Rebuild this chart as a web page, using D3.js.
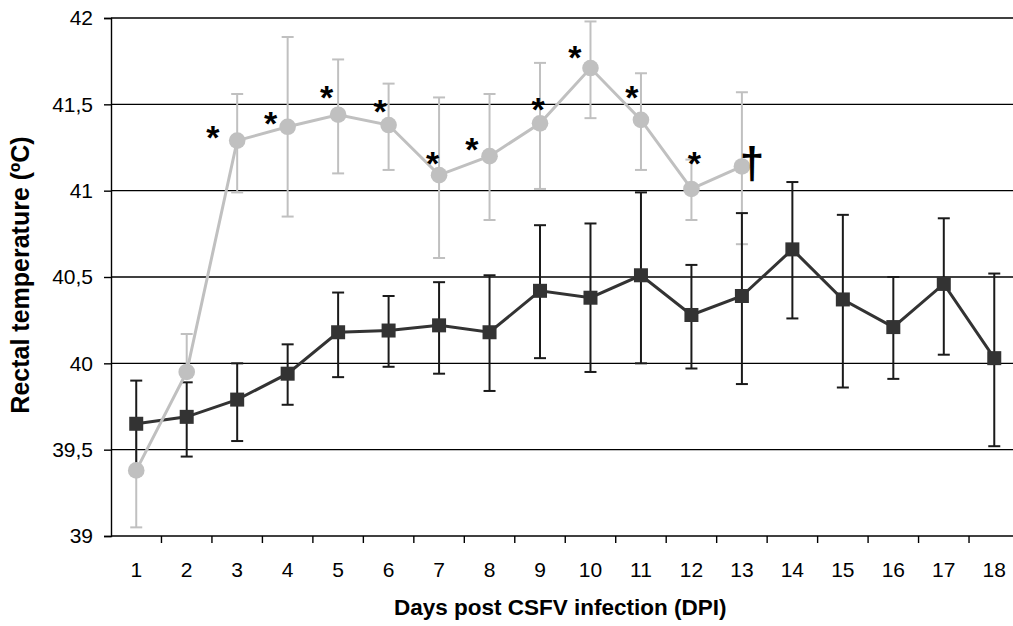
<!DOCTYPE html>
<html>
<head>
<meta charset="utf-8">
<script src="https://cdn.jsdelivr.net/npm/d3@7"></script>
<style>
  body { margin: 0; background: #fff; }
  text { font-family: "Liberation Sans", Arial, sans-serif; }
</style>
</head>
<body>
<div id="chart"></div>
<script>
// Days on the x axis
const days = [1, 2, 3, 4, 5, 6, 7, 8, 9, 10, 11, 12, 13, 14, 15, 16, 17, 18];
const yTicks = [39, 39.5, 40, 40.5, 41, 41.5, 42];

// Infected group (light grey, circles) - days 1 to 13
const infMean  = [39.38, 39.95, 41.29, 41.37, 41.44, 41.38, 41.09, 41.20, 41.39, 41.71, 41.41, 41.01, 41.14];
const infUpper = [39.66, 40.17, 41.56, 41.89, 41.76, 41.62, 41.54, 41.56, 41.74, 41.98, 41.68, 41.18, 41.57];
const infLower = [39.05, 39.92, 40.99, 40.85, 41.10, 41.12, 40.61, 40.83, 41.01, 41.42, 41.12, 40.83, 40.69];

// Second group (dark grey, squares) - days 1 to 18
const ctlMean  = [39.65, 39.69, 39.79, 39.94, 40.18, 40.19, 40.22, 40.18, 40.42, 40.38, 40.51, 40.28, 40.39, 40.66, 40.37, 40.21, 40.46, 40.03];
const ctlUpper = [39.90, 39.89, 40.00, 40.11, 40.41, 40.39, 40.47, 40.51, 40.80, 40.81, 40.99, 40.57, 40.87, 41.05, 40.86, 40.50, 40.84, 40.52];
const ctlLower = [39.40, 39.46, 39.55, 39.76, 39.92, 39.98, 39.94, 39.84, 40.03, 39.95, 40.00, 39.97, 39.88, 40.26, 39.86, 39.91, 40.05, 39.52];

// Significance marks (position in day / temperature units)
const starDay  = [2.52, 3.66, 4.77, 5.83, 6.87, 7.65, 8.96, 9.69, 10.82, 12.06];
const starTemp = [41.36, 41.44, 41.59, 41.51, 41.21, 41.29, 41.52, 41.82, 41.59, 41.21];
const daggerDay = 13.2, daggerTemp = 41.15;

const W = 1013, H = 626;
const margin = {left: 111, top: 18};
const plotW = 908.5, plotH = 518;

const svg = d3.select("#chart").append("svg")
    .attr("width", W).attr("height", H);

const g = svg.append("g")
    .attr("transform", `translate(${margin.left},${margin.top})`);

const x = d3.scaleBand().domain(days).range([0, plotW]).padding(0);
const xLin = d3.scaleLinear().domain([0.5, 18.5]).range([0, plotW]);
const y = d3.scaleLinear().domain([39, 42]).range([plotH, 0]);
const cx = d => x(d) + x.bandwidth() / 2;

// Horizontal gridlines
g.selectAll(".grid")
    .data(yTicks.slice(1))
    .enter().append("line")
    .attr("x1", 0).attr("x2", plotW)
    .attr("y1", d => y(d)).attr("y2", d => y(d))
    .attr("stroke", "#000").attr("stroke-width", 1.4);

// Y axis
const yAxis = g.append("g")
    .call(d3.axisLeft(y).tickValues(yTicks).tickSize(7).tickPadding(11)
        .tickFormat(d => String(d).replace(".", ",")));
yAxis.select(".domain").attr("stroke-width", 1.4);
yAxis.selectAll(".tick line").attr("stroke-width", 1.4);
yAxis.selectAll("text").attr("font-size", 21).attr("fill", "#000")
    .style("font-family", "Liberation Sans, Arial, sans-serif");

// X axis (ticks sit between categories)
const xAxis = g.append("g").attr("transform", `translate(0,${plotH})`);
xAxis.append("line")
    .attr("x1", 0).attr("x2", plotW)
    .attr("stroke", "#000").attr("stroke-width", 1.4);
xAxis.selectAll(".xt")
    .data(days)
    .enter().append("line")
    .attr("x1", d => x(d) + x.bandwidth()).attr("x2", d => x(d) + x.bandwidth())
    .attr("y1", 0).attr("y2", 7)
    .attr("stroke", "#000").attr("stroke-width", 1.4);
xAxis.selectAll(".xl")
    .data(days)
    .enter().append("text")
    .attr("x", d => cx(d)).attr("y", 41)
    .attr("text-anchor", "middle")
    .attr("font-size", 21)
    .text(d => d);

// Axis titles
svg.append("text")
    .attr("x", margin.left + xLin(9.4)).attr("y", 615)
    .attr("text-anchor", "middle")
    .attr("font-size", 22.5).attr("font-weight", "bold")
    .text("Days post CSFV infection (DPI)");

svg.append("text")
    .attr("transform", `translate(29,${margin.top + 257}) rotate(-90)`)
    .attr("text-anchor", "middle")
    .attr("font-size", 25).attr("font-weight", "bold")
    .text("Rectal temperature (ºC)");

// Error bars helper
function errorBars(mean, upper, lower, color) {
    const data = mean.map((m, i) => ({day: days[i], hi: upper[i], lo: lower[i]}));
    const eb = g.append("g");
    eb.selectAll(".v").data(data).enter().append("line")
        .attr("x1", d => cx(d.day)).attr("x2", d => cx(d.day))
        .attr("y1", d => y(d.hi)).attr("y2", d => y(d.lo))
        .attr("stroke", color).attr("stroke-width", 2);
    ["hi", "lo"].forEach(k => {
        eb.selectAll(".c" + k).data(data).enter().append("line")
            .attr("x1", d => cx(d.day) - 6).attr("x2", d => cx(d.day) + 6)
            .attr("y1", d => y(d[k])).attr("y2", d => y(d[k]))
            .attr("stroke", color).attr("stroke-width", 2);
    });
}

errorBars(infMean, infUpper, infLower, "#c0c0c0");
errorBars(ctlMean, ctlUpper, ctlLower, "#1a1a1a");

const line = d3.line()
    .x(d => cx(d.day))
    .y(d => y(d.v));

// Dark series line and square markers
const ctlData = ctlMean.map((v, i) => ({day: days[i], v}));
g.append("path").datum(ctlData)
    .attr("fill", "none").attr("stroke", "#333").attr("stroke-width", 3)
    .attr("d", line);
g.selectAll(".sq").data(ctlData).enter().append("rect")
    .attr("x", d => cx(d.day) - 7).attr("y", d => y(d.v) - 7)
    .attr("width", 14).attr("height", 14)
    .attr("fill", "#333");

// Light series line and circle markers
const infData = infMean.map((v, i) => ({day: days[i], v}));
g.append("path").datum(infData)
    .attr("fill", "none").attr("stroke", "#c0c0c0").attr("stroke-width", 3)
    .attr("d", line);
g.selectAll(".dot").data(infData).enter().append("circle")
    .attr("cx", d => cx(d.day)).attr("cy", d => y(d.v))
    .attr("r", 8.3)
    .attr("fill", "#c0c0c0");

// Asterisks and dagger
g.selectAll(".star").data(starDay).enter().append("text")
    .attr("x", (d, i) => xLin(d)).attr("y", (d, i) => y(starTemp[i]))
    .attr("dy", "0.6em")
    .attr("text-anchor", "middle")
    .attr("font-size", 34).attr("font-weight", "bold")
    .text("*");

g.append("text")
    .attr("x", xLin(daggerDay)).attr("y", y(daggerTemp))
    .attr("dy", "0.3em")
    .attr("text-anchor", "middle")
    .attr("font-size", 44).attr("font-weight", "bold")
    .text("†");
</script>
</body>
</html>
